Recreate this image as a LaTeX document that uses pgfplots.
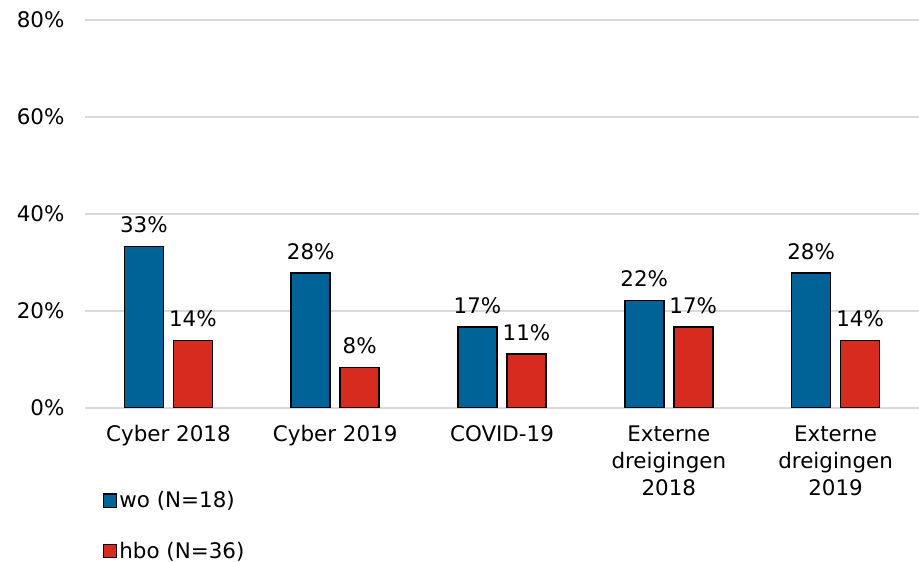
\documentclass[border=0pt]{standalone}
\usepackage{fontspec}
\setmainfont{DejaVu Sans}
\usepackage{pgfplots}
\pgfplotsset{compat=1.18}
\definecolor{wo}{RGB}{0,99,152}
\definecolor{hbo}{RGB}{215,43,31}
\definecolor{gridc}{RGB}{217,217,217}
\begin{document}
\begin{tikzpicture}
\path[use as bounding box] (0,0) rectangle (919bp,562bp);
\begin{axis}[
  at={(85bp,154bp)}, anchor=south west,
  scale only axis, width=834bp, height=388bp,
  font=\fontsize{21.5}{27.5}\selectfont,
  ybar=10bp, bar width=39bp,
  xmin=-0.5, xmax=4.5, ymin=0, ymax=80,
  xtick=data,
  xticklabels={Cyber 2018,Cyber 2019,COVID-19,{Externe\\dreigingen\\2018},{Externe\\dreigingen\\2019}},
  xticklabel style={align=center, text depth=0pt, yshift=-14bp},
  ytick={0,20,40,60,80},
  yticklabel={\pgfmathprintnumber{\tick}\%},
  /pgf/number format/assume math mode=true,
  yticklabel style={xshift=-17bp},
  ymajorgrids, grid style={gridc, line width=1.5bp},
  axis line style={draw=none},
  major tick length=0pt,
  nodes near coords={\pgfmathprintnumber[fixed,precision=0]{\pgfplotspointmeta}\%},
  every node near coord/.append style={font=\fontsize{21.5}{24}\selectfont, anchor=south, yshift=9.5bp},
  legend style={draw=none, fill=none, at={(axis description cs:0.018,-0.205)}, anchor=north west,
    legend cell align=left, row sep=28.5bp, font=\fontsize{21.5}{24}\selectfont,
    /tikz/every even column/.append style={column sep=2bp}},
  legend image code/.code={\draw[#1,line width=1.2bp] (0bp,-6.5bp) rectangle (13bp,6.5bp);},
]
\addplot[fill=wo, draw=black, line width=1.5bp] coordinates {(0,33.3) (1,27.8) (2,16.7) (3,22.2) (4,27.8)};
\addplot[fill=hbo, draw=black, line width=1.5bp] coordinates {(0,13.9) (1,8.3) (2,11.1) (3,16.7) (4,13.9)};
\legend{wo (N=18),hbo (N=36)}
\end{axis}
\end{tikzpicture}
\end{document}
